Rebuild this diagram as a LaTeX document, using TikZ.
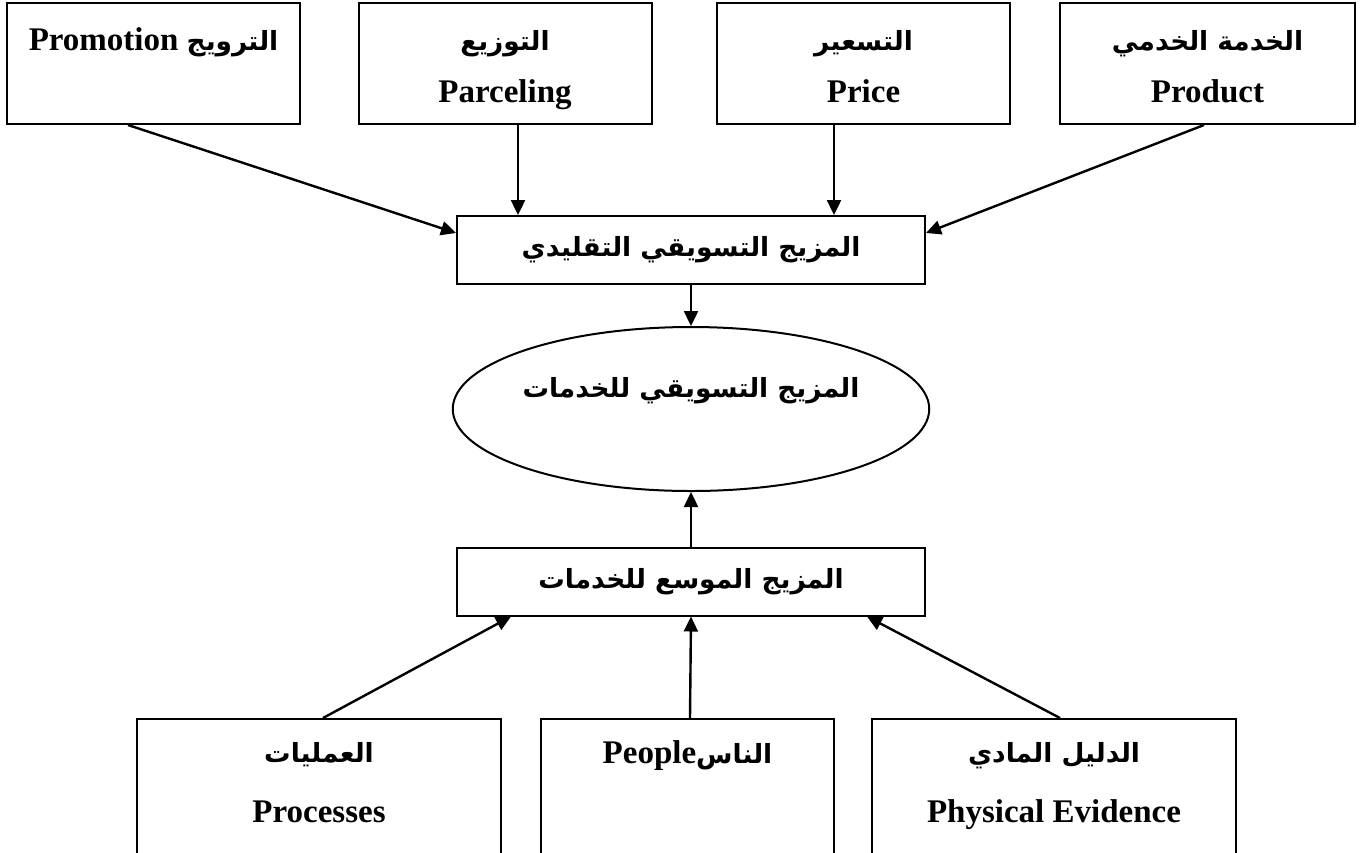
\documentclass[tikz,border=0pt]{standalone}
\usepackage{fontspec}
\setmainfont{Liberation Serif}
\newfontfamily\arabicfont[Script=Arabic,Scale=0.8]{DejaVu Sans}
\TeXXeTstate=1
\usetikzlibrary{arrows.meta,shapes.geometric,calc}
\newcommand{\arb}[1]{{\arabicfont\beginR #1\endR}}

\begin{document}
\begin{tikzpicture}[x=0.5pt, y=-0.5pt,
    topbox/.style={rectangle, draw=black, line width=1pt, inner sep=0pt, align=center,
                minimum width=146.5pt, minimum height=60.5pt, font=\bfseries\fontsize{16.5}{26}\selectfont,
                text height=44pt, text depth=5pt},
    midbox/.style={rectangle, draw=black, line width=1pt, inner sep=0pt, align=center,
                minimum width=234pt, minimum height=34pt, font=\bfseries\fontsize{16.5}{22}\selectfont},
    lowbox/.style={rectangle, draw=black, line width=1pt, inner sep=0pt, align=center,
                minimum width=182pt, minimum height=93pt, font=\bfseries\fontsize{16.5}{30}\selectfont},
    mixoval/.style={ellipse, draw=black, line width=1pt, inner sep=0pt, align=center,
                minimum width=234pt, minimum height=82pt, font=\bfseries\fontsize{16.5}{22}\selectfont},
    arr/.style={-{Triangle[length=7.5pt,width=7pt]}, black, line width=1.2pt}]
\useasboundingbox (0,0) rectangle (1360,852);
\node[topbox] (promo) at (153.5,63.5) {Promotion \arb{الترويج}\\~};
\node[topbox] (parcel) at (505,63.5) {\arb{التوزيع}\\Parceling};
\node[topbox] (price) at (863.5,63.5) {\arb{التسعير}\\Price};
\node[topbox, minimum width=147.5pt] (product) at (1207.5,63.5) {\arb{الخدمة الخدمي}\\Product};
\node[midbox] (trad) at (691,250) {\arb{المزيج التسويقي التقليدي}};
\node[mixoval] (svcmix) at (691,409) {\arb{المزيج التسويقي للخدمات}\\~};
\node[midbox] (ext) at (691,581.5) {\arb{المزيج الموسع للخدمات}};
\node[lowbox] (proc) at (319,812) {\arb{العمليات}\\Processes\\~};
\node[lowbox, minimum width=146.5pt] (people) at (687.5,812) {People\arb{الناس}\\~\\~};
\node[lowbox] (phys) at (1054,812) {\arb{الدليل المادي}\\Physical Evidence\\~};
\coordinate (parcelout) at ($(parcel.south)+(13,0)$);
\coordinate (priceout) at ($(price.south)+(-29.5,0)$);
\draw[arr] ($(promo.south)+(-25.5,0)$) -- ($(trad.west)+(0,-17)$);
\draw[arr] (parcelout) -- (parcelout |- trad.north);
\draw[arr] (priceout) -- (priceout |- trad.north);
\draw[arr] ($(product.south)+(-3.5,0)$) -- ($(trad.east)+(0,-17)$);
\draw[arr] (trad) -- (svcmix);
\draw[arr] (ext) -- (svcmix);
\draw[arr] ($(proc.north)+(4,0)$) -- ($(ext.south)+(-180,0)$);
\draw[arr] ($(people.north)+(2.5,0)$) -- ($(ext.south)+(0,0)$);
\draw[arr] ($(phys.north)+(6,0)$) -- ($(ext.south)+(176,0)$);
\end{tikzpicture}
\end{document}
